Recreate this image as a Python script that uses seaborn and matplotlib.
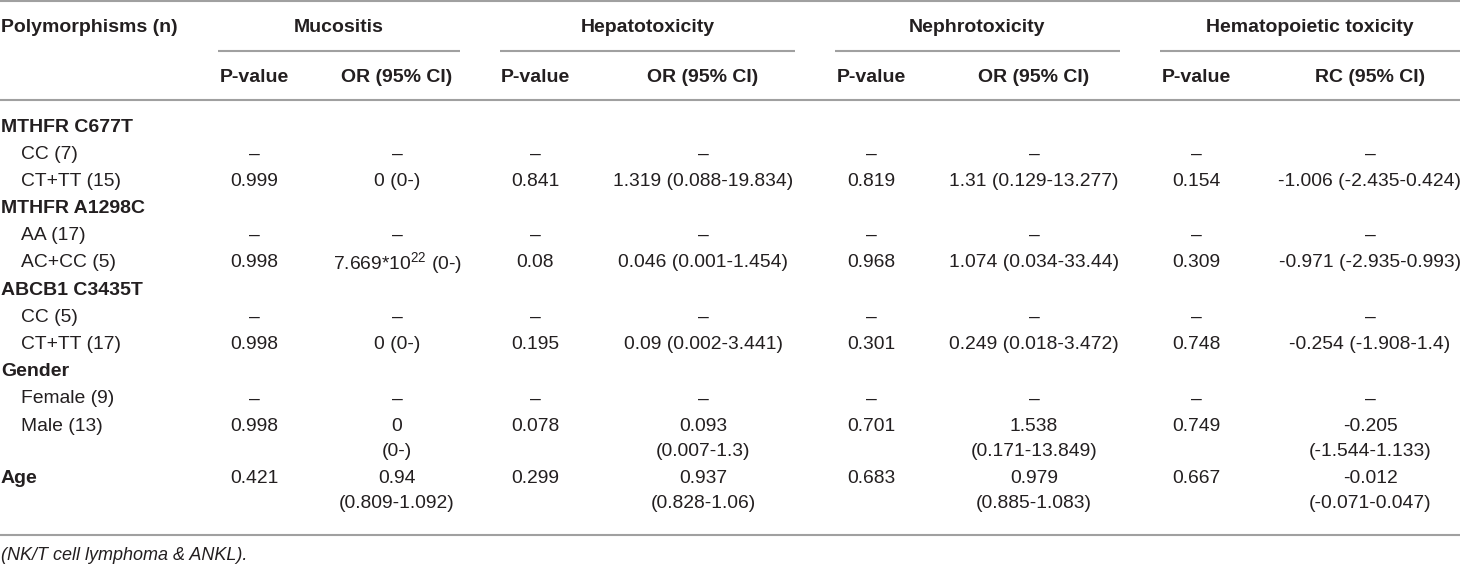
import matplotlib
matplotlib.use("Agg")
import matplotlib.pyplot as plt
import seaborn as sns

# table content
groups = ["Mucositis", "Hepatotoxicity", "Nephrotoxicity", "Hematopoietic toxicity"]
subheads = ["P-value", "OR (95% CI)", "P-value", "OR (95% CI)",
            "P-value", "OR (95% CI)", "P-value", "RC (95% CI)"]

row_labels = ["MTHFR C677T", "CC (7)", "CT+TT (15)", "MTHFR A1298C", "AA (17)", "AC+CC (5)",
              "ABCB1 C3435T", "CC (5)", "CT+TT (17)", "Gender", "Female (9)", "Male (13)", "Age"]
row_bold = [True, False, False, True, False, False, True, False, False, True, False, False, True]

muc_p = ["", "–", "0.999", "", "–", "0.998", "", "–", "0.998", "", "–", "0.998", "0.421"]
muc_or = ["", "–", "0 (0-)", "", "–", "7.669*10$^{22}$ (0-)", "", "–", "0 (0-)", "", "–",
          "0\n(0-)", "0.94\n(0.809-1.092)"]
hep_p = ["", "–", "0.841", "", "–", "0.08", "", "–", "0.195", "", "–", "0.078", "0.299"]
hep_or = ["", "–", "1.319 (0.088-19.834)", "", "–", "0.046 (0.001-1.454)", "", "–",
          "0.09 (0.002-3.441)", "", "–", "0.093\n(0.007-1.3)", "0.937\n(0.828-1.06)"]
nep_p = ["", "–", "0.819", "", "–", "0.968", "", "–", "0.301", "", "–", "0.701", "0.683"]
nep_or = ["", "–", "1.31 (0.129-13.277)", "", "–", "1.074 (0.034-33.44)", "", "–",
          "0.249 (0.018-3.472)", "", "–", "1.538\n(0.171-13.849)", "0.979\n(0.885-1.083)"]
hem_p = ["", "–", "0.154", "", "–", "0.309", "", "–", "0.748", "", "–", "0.749", "0.667"]
hem_rc = ["", "–", "-1.006 (-2.435-0.424)", "", "–", "-0.971 (-2.935-0.993)", "", "–",
          "-0.254 (-1.908-1.4)", "", "–", "-0.205\n(-1.544-1.133)", "-0.012\n(-0.071-0.047)"]
footnote = "(NK/T cell lymphoma & ANKL)."

columns = [muc_p, muc_or, hep_p, hep_or, nep_p, nep_or, hem_p, hem_rc]

sns.set_style("white")
plt.rcParams["mathtext.fontset"] = "custom"
plt.rcParams["mathtext.rm"] = "Liberation Sans"
plt.rcParams["mathtext.default"] = "rm"

INK = "#231f20"
HEAD = dict(family=["Liberation Sans", "DejaVu Sans"], fontweight="bold", fontsize=14.0, color=INK)
BODY = dict(family=["Liberation Sans", "DejaVu Sans"], fontsize=13.9, color=INK)

col_x = [254, 397, 535, 703, 871, 1034, 1196, 1370]
spans = [(218, 460), (500, 795), (835, 1120), (1160, 1460)]
line_h = 25.0
row_gap = 2.2

fig = plt.figure(figsize=(14.6, 5.65), dpi=100)
ax = fig.add_axes([0, 0, 1, 1])
ax.set_xlim(0, 1460)
ax.set_ylim(565, 0)
ax.axis("off")

rule = dict(color="#a0a0a0", lw=1.5, solid_capstyle="butt")
ax.plot([0, 1460], [1.2, 1.2], **rule)
ax.plot([0, 1460], [100, 100], **rule)
ax.plot([0, 1460], [535, 535], **rule)

ax.text(1, 27, "Polymorphisms (n)", ha="left", va="center", **HEAD)
for g, (a, b) in zip(groups, spans):
    ax.text((a + b) / 2, 27, g, ha="center", va="center", **HEAD)
    ax.plot([a, b], [51, 51], **rule)
for h, x in zip(subheads, col_x):
    ax.text(x, 77, h, ha="center", va="center", **HEAD)

y = 127
for i, lab in enumerate(row_labels):
    if row_bold[i]:
        ax.text(1, y, lab, ha="left", va="center", **HEAD)
    else:
        ax.text(21, y, lab, ha="left", va="center", **BODY)
    n_lines = 1
    for col, x in zip(columns, col_x):
        parts = col[i].split("\n") if col[i] else []
        n_lines = max(n_lines, len(parts))
        for k, part in enumerate(parts):
            ax.text(x, y + k * line_h, part, ha="center", va="center", **BODY)
    y += n_lines * line_h + row_gap

ax.text(1, 556, footnote, ha="left", va="center", style="italic",
        family=["Liberation Sans", "DejaVu Sans"], fontsize=13, color=INK)

fig.savefig("out.png", dpi=100)
